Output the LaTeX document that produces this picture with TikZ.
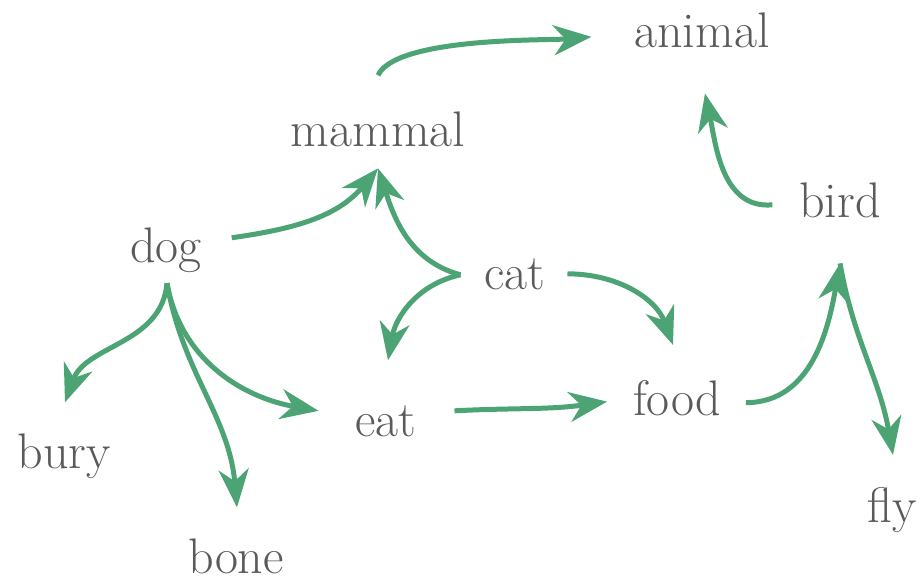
\documentclass[tikz,border=0pt]{standalone}
\usepackage{tikz}
\usepackage{xcolor}
\usetikzlibrary{calc,arrows.meta}
\definecolor{wordgrey}{RGB}{90,90,90}
\definecolor{linkgreen}{RGB}{76,163,115}

\begin{document}
\begin{tikzpicture}[x=1pt, y=1pt,
  word/.style={text=wordgrey, font=\fontsize{50}{60}\selectfont, inner sep=0pt, outer sep=0pt, anchor=base},
  link/.style={linkgreen, line width=5pt, -{Stealth[length=38pt, width=30pt, inset=12pt]}}]

\useasboundingbox (0,0) rectangle (923,581);

% 1. WORDS
\node[word] (animal) at (702,533) {animal};
\node[word] (mammal) at (378,434) {mammal};
\node[word] (bird) at (840,363) {bird};
\node[word] (dog) at (166,318) {dog};
\node[word] (cat) at (515,291) {cat};
\node[word] (food) at (677,165) {food};
\node[word] (eat) at (386,144) {eat};
\node[word] (bury) at (64,113) {bury};
\node[word] (bone) at (236,8) {bone};
\node[word] (fly) at (892,59) {fly};

% 2. LINKS INTO THE TOP
\draw[link] ([shift={(0,37)}]mammal.north) to[out=65, in=185, looseness=0.5] ([shift={(-43,-6)}]animal.west);
\draw[link] ([shift={(-27,-4)}]bird.west) to[out=185, in=-78] ([shift={(3,-45)}]animal.south);
\draw[link] ([shift={(30,13)}]dog.east) to[out=8, in=-130] ([shift={(0,-21)}]mammal.south);
\draw[link] ([shift={(-24,0)}]cat.west) to[out=165, in=-72] ([shift={(0,-21)}]mammal.south);

% 3. LINKS FROM CAT
\draw[link] ([shift={(-24,0)}]cat.west) to[out=192, in=80] ([shift={(2,46)}]eat.north);
\draw[link] ([shift={(22,1)}]cat.east) to[out=0, in=110] ([shift={(-4,36)}]food.north);

% 4. LINKS FROM DOG
\draw[link] ([shift={(1,-10)}]dog.south) to[out=-95, in=70] ([shift={(1,31)}]bury.north);
\draw[link] ([shift={(1,-10)}]dog.south) to[out=-80, in=170] ([shift={(-37,11)}]eat.west);
\draw[link] ([shift={(1,-10)}]dog.south) to[out=-80, in=95] ([shift={(1,31)}]bone.north);

% 5. FOOD, BIRD, FLY
\draw[link] ([shift={(38,11)}]eat.east) to[out=3, in=188] ([shift={(-26,-3)}]food.west);
\draw[link] ([shift={(25,-4)}]food.east) to[out=0, in=-100] ([shift={(0,-45)}]bird.south);
\draw[link] ([shift={(0,-45)}]bird.south) to[out=-80, in=100] ([shift={(1,32)}]fly.north);

\end{tikzpicture}
\end{document}
